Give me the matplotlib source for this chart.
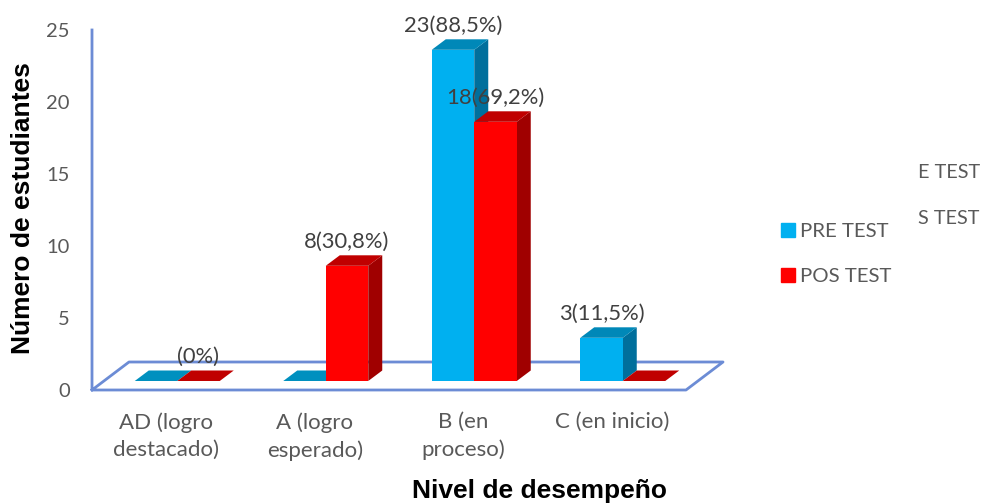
from matplotlib import pyplot as plt
from matplotlib.patches import Patch
import numpy as np

categories = ['AD (logro\ndestacado)', 'A (logro\nesperado)', 'B (en\nproceso)', 'C (en inicio)']
pre_test = [0, 0, 23, 3]
pos_test = [0, 8, 18, 0]
pre_labels = ['', '', '23(88,5%)', '3(11,5%)']
pos_labels = ['(0%)', '8(30,8%)', '18(69,2%)', '']
y_ticks = [0, 5, 10, 15, 20, 25]

W, H = 984, 503
TEXT = '#595959'
FLOOR = '#6C8CD5'

plt.rcParams['font.family'] = ['Lato', 'DejaVu Sans']

fig = plt.figure(figsize=(W / 100, H / 100), dpi=100)
ax = fig.add_axes([92 / W, (H - 390) / H, 594 / W, 360 / H])
ax.set_xlim(-0.5, 3.5)
ax.set_ylim(0, 25)
for s in ax.spines.values():
    s.set_visible(False)

# px -> data
ux = 4 / 594
uy = 25 / 360

# floor and wall
fdx, fdy = 37 * ux, 28 * uy
ax.plot([-0.5, -0.5 + fdx, 3.5 + fdx, 3.5, -0.5, -0.5], [0, fdy, fdy, 0, 0, 25],
        color=FLOOR, lw=2, clip_on=False, zorder=1)

width = 42.5 * ux
off_x, off_y = 11 * ux, 9 * uy
dep_x, dep_y = 14 * ux, 10.5 * uy


def bar3d(x0, val, front, side, top, flat, z):
    x1 = x0 + width
    base = off_y
    y = base + val
    if val == 0:
        ax.fill([x0, x1, x1 + dep_x, x0 + dep_x], [base, base, base + dep_y, base + dep_y],
                color=flat, lw=0, clip_on=False, zorder=z)
        return
    ax.fill([x1, x1 + dep_x, x1 + dep_x, x1], [base, base + dep_y, y + dep_y, y],
            color=side, lw=0, clip_on=False, zorder=z)
    ax.fill([x0, x1, x1 + dep_x, x0 + dep_x], [y, y, y + dep_y, y + dep_y],
            color=top, lw=0, clip_on=False, zorder=z)
    ax.bar(x0, val, width, bottom=base, align='edge', color=front, lw=0, clip_on=False, zorder=z)


pos = np.arange(len(categories))
for i in pos:
    split = i + off_x
    bar3d(split - width, pre_test[i], '#00B0F0', '#006F9C', '#0088B8', '#0090BF', 2 + i * 2)
    bar3d(split, pos_test[i], '#FF0000', '#A00000', '#C00000', '#C00000', 3 + i * 2)
    if pre_labels[i]:
        ax.annotate(pre_labels[i], (split - width / 2, off_y + pre_test[i]), xytext=(0, 17.5),
                    textcoords='offset points', ha='center', va='center', fontsize=15.8,
                    color='#404040', zorder=20, annotation_clip=False)
    if pos_labels[i]:
        ax.annotate(pos_labels[i], (split + width / 2, off_y + pos_test[i]), xytext=(0, 17.5),
                    textcoords='offset points', ha='center', va='center', fontsize=15.8,
                    color='#404040', zorder=20, annotation_clip=False)

ax.set_xticks(pos)
ax.set_xticklabels(categories, fontsize=16, color=TEXT, linespacing=1.45)
ax.set_yticks(y_ticks)
ax.set_yticklabels(y_ticks, fontsize=14.5, color=TEXT)
ax.tick_params(axis='both', length=0)
ax.tick_params(axis='x', pad=16)
ax.tick_params(axis='y', pad=16)

ax.set_xlabel('Nivel de desempeño', fontsize=19, fontweight='bold', color='black',
              family='Liberation Sans')
ax.xaxis.set_label_coords((540 - 92) / 594, -(491 - 390) / 360)
ax.xaxis.label.set_verticalalignment('center')
ax.set_ylabel('Número de estudiantes', fontsize=19, fontweight='bold', color='black',
              family='Liberation Sans')
ax.yaxis.set_label_coords((23 - 92) / 594, (390 - 208) / 360)
ax.yaxis.label.set_verticalalignment('center')

handles = [Patch(color='#00B0F0', label='PRE TEST'), Patch(color='#FF0000', label='POS TEST')]
fig.legend(handles=handles, loc='center left', bbox_to_anchor=(781 / W, (H - 254) / H),
           frameon=False, fontsize=14.7, labelcolor=TEXT, handlelength=0.7, handleheight=0.7,
           handletextpad=0.22, labelspacing=1.35, borderpad=0, borderaxespad=0)

# leftovers of an older legend, cut off in the original
fig.text(918 / W, (H - 173) / H, 'E TEST', fontsize=14.3, color=TEXT, va='center')
fig.text(918 / W, (H - 219) / H, 'S TEST', fontsize=14.3, color=TEXT, va='center')

fig.savefig('out.png', dpi=100)
